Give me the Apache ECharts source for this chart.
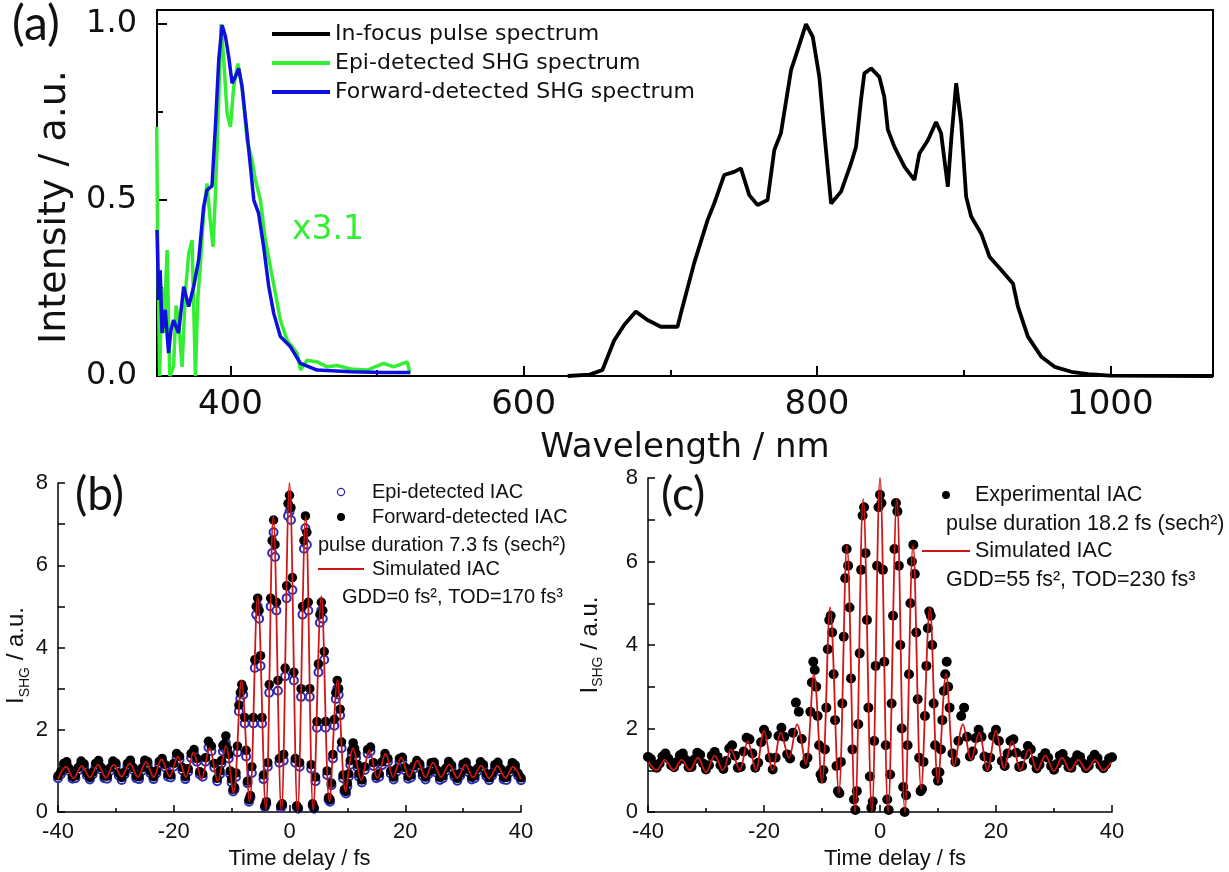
<!DOCTYPE html>
<html>
<head>
<meta charset="utf-8">
<script src="https://cdn.jsdelivr.net/npm/echarts@6.0.0/dist/echarts.min.js"></script>
<style>
html,body{margin:0;padding:0;background:#ffffff;}
#chart{width:1229px;height:872px;}
</style>
</head>
<body>
<div id="chart"></div>
<script>
// ---------- Panel (a): spectra ----------
const pulseWavelength = [630, 645, 653.7, 661.6, 668.5, 676.5, 684.4, 693.5, 704.9, 707.2, 716.2, 725.4, 729.9, 736.7, 743.5, 748.1, 753.8, 759.5, 766.3, 770.9, 775.4, 782.3, 786.8, 792.5, 797.1, 801.6, 805.0, 809.6, 816.4, 823.2, 826.6, 830.0, 832.3, 836.9, 842.5, 845.9, 848.3, 852.8, 859.6, 863.0, 866.4, 869.8, 875.6, 881.2, 884.6, 889.2, 891.5, 894.9, 898.3, 901.7, 905.1, 911.9, 917.6, 925.6, 933.6, 937.0, 943.8, 952.9, 962.0, 973.4, 985, 1000, 1070];
const pulseIntensity = [0, 0.004, 0.017, 0.10, 0.145, 0.183, 0.159, 0.14, 0.14, 0.178, 0.32, 0.443, 0.49, 0.571, 0.58, 0.59, 0.514, 0.486, 0.5, 0.642, 0.69, 0.869, 0.926, 1.0, 0.964, 0.85, 0.69, 0.49, 0.524, 0.604, 0.651, 0.784, 0.86, 0.874, 0.85, 0.793, 0.70, 0.651, 0.595, 0.576, 0.557, 0.632, 0.67, 0.722, 0.69, 0.538, 0.67, 0.832, 0.718, 0.509, 0.453, 0.405, 0.339, 0.301, 0.263, 0.197, 0.112, 0.055, 0.026, 0.012, 0.005, 0.001, 0];
const epiShgWavelength = [349.8, 350.4, 351.8, 353.2, 354.6, 356.9, 358.7, 361.3, 363.0, 364.7, 367.1, 369.3, 371.6, 373.9, 376.2, 377.8, 379.5, 381.8, 384.1, 386.3, 388.2, 389.8, 392.1, 393.7, 395.5, 397.8, 400.1, 402.3, 405.1, 408.0, 411.4, 414.8, 417.1, 420.5, 423.9, 427.3, 430.7, 434.1, 438.7, 445.5, 447.8, 452.3, 459.2, 466.0, 472.8, 481.9, 493.3, 504.6, 511.4, 520.6, 522.3];
const epiShgIntensity = [0.708, 0.405, 0.0, 0.25, 0.122, 0.358, 0.0, 0.026, 0.2, 0.159, 0.026, 0.235, 0.348, 0.386, 0.0, 0.22, 0.31, 0.462, 0.547, 0.443, 0.367, 0.514, 0.784, 1.0, 0.898, 0.746, 0.708, 0.822, 0.888, 0.822, 0.67, 0.614, 0.557, 0.5, 0.386, 0.31, 0.235, 0.159, 0.102, 0.065, 0.017, 0.045, 0.04, 0.026, 0.03, 0.02, 0.017, 0.036, 0.026, 0.04, 0.012];
const fwdShgWavelength = [350.0, 351.1, 352.2, 353.4, 355.6, 357.9, 359.5, 361.3, 364.7, 368.2, 371.6, 375.0, 378.4, 381.8, 384.1, 387.5, 389.8, 392.1, 394.4, 396.7, 398.9, 401.2, 403.4, 405.7, 408.0, 411.4, 413.7, 416.0, 419.3, 422.7, 426.2, 429.6, 434.1, 441.0, 447.8, 459.2, 482.0, 504.6, 522.8];
const fwdShgIntensity = [0.415, 0.216, 0.3, 0.122, 0.188, 0.065, 0.13, 0.159, 0.122, 0.254, 0.197, 0.254, 0.33, 0.481, 0.528, 0.54, 0.708, 0.898, 0.997, 0.964, 0.907, 0.832, 0.85, 0.874, 0.822, 0.69, 0.595, 0.5, 0.462, 0.367, 0.254, 0.178, 0.112, 0.083, 0.036, 0.017, 0.012, 0.01, 0.01];
const wavelengthTicks = [400, 600, 800, 1000];
const wavelengthMinorTicks = [500, 700, 900];
const intensityTicks = [0, 0.5, 1.0];
const intensityMinorTicks = [0.25, 0.75];

// ---------- Panels (b), (c): interferometric autocorrelation ----------
const iacDelay = [
 -40,-39.5,-39,-38.5,-38,-37.5,-37,-36.5,-36,-35.5,
 -35,-34.5,-34,-33.5,-33,-32.5,-32,-31.5,-31,-30.5,
 -30,-29.5,-29,-28.5,-28,-27.5,-27,-26.5,-26,-25.5,
 -25,-24.5,-24,-23.5,-23,-22.5,-22,-21.5,-21,-20.5,
 -20,-19.5,-19,-18.5,-18,-17.5,-17,-16.5,-16,-15.5,
 -15,-14.5,-14,-13.5,-13,-12.5,-12,-11.5,-11,-10.5,
 -10,-9.5,-9,-8.5,-8,-7.5,-7,-6.5,-6,-5.5,
 -5,-4.5,-4,-3.5,-3,-2.5,-2,-1.5,-1,-0.5,
 0,
 0.5,1,1.5,2,2.5,3,3.5,4,4.5,5,
 5.5,6,6.5,7,7.5,8,8.5,9,9.5,10,
 10.5,11,11.5,12,12.5,13,13.5,14,14.5,15,
 15.5,16,16.5,17,17.5,18,18.5,19,19.5,20,
 20.5,21,21.5,22,22.5,23,23.5,24,24.5,25,
 25.5,26,26.5,27,27.5,28,28.5,29,29.5,30,
 30.5,31,31.5,32,32.5,33,33.5,34,34.5,35,
 35.5,36,36.5,37,37.5,38,38.5,39,39.5,40];
// extra samples between the grid above, central region
const iacDelayFine = [-11.75,-11.25,-10.75,-10.25,-9.75,-9.25,-8.75,-8.25,-7.75,-7.25,-6.75,-6.25,-5.75,-5.25,-4.75,-4.25,-3.75,-3.25,-2.75,-2.25,-1.75,-1.25,-0.75,-0.25,
 0.25,0.75,1.25,1.75,2.25,2.75,3.25,3.75,4.25,4.75,5.25,5.75,6.25,6.75,7.25,7.75,8.25,8.75,9.25,9.75,10.25,10.75,11.25,11.75];

const bForwardIAC = [
 0.88, 0.98, 1.18, 1.22, 1.05, 0.86, 0.88, 1.08, 1.24, 1.17,
 0.95, 0.84, 0.97, 1.18, 1.25, 1.08, 0.88, 0.87, 1.07, 1.24,
 1.19, 0.95, 0.84, 0.97, 1.18, 1.26, 1.08, 0.88, 0.86, 1.07,
 1.26, 1.22, 1.0, 0.86, 1.0, 1.23, 1.3, 1.15, 0.92, 0.9,
 1.18, 1.42, 1.35, 1.08, 0.86, 1.05, 1.42, 1.52, 1.3, 0.98,
 0.93, 1.32, 1.72, 1.6, 1.18, 0.82, 1.0, 1.62, 1.85, 1.4,
 0.8, 0.6, 1.6, 2.9, 3.0, 1.5, 0.3, 1.1, 3.7, 5.2,
 3.8, 0.9, 0.25, 3.1, 6.6, 6.5, 3.2, 0.15, 1.4, 5.5,
 7.7,
 5.7, 1.3, 0.1, 3.0, 6.6, 6.8, 3.0, 0.2, 0.85, 3.6,
 5.1, 3.9, 1.0, 0.3, 1.4, 2.9, 3.0, 1.7, 0.55, 0.7,
 1.25, 1.68, 1.42, 0.93, 0.78, 1.1, 1.52, 1.58, 1.2, 0.88,
 0.93, 1.22, 1.42, 1.3, 1.0, 0.85, 1.05, 1.3, 1.33, 1.08,
 0.87, 0.9, 1.12, 1.25, 1.17, 0.95, 0.85, 0.98, 1.2, 1.21,
 1.02, 0.84, 0.88, 1.06, 1.23, 1.14, 0.92, 0.82, 0.94, 1.17,
 1.21, 1.03, 0.85, 0.88, 1.06, 1.22, 1.15, 0.93, 0.83, 0.94,
 1.15, 1.21, 1.05, 0.85, 0.84, 1.03, 1.2, 1.14, 0.94, 0.83];
const bForwardIACFine = [1.25, 1.65, 1.55, 1.0, 0.55, 0.95, 2.6, 3.1, 2.3, 0.75, 0.4, 2.3, 5.0, 4.9, 2.3, 0.15, 1.2, 5.2, 7.1, 5.1, 1.3, 0.2, 3.5, 7.5,
 7.4, 3.4, 0.15, 1.2, 5.0, 7.2, 5.1, 1.15, 0.1, 2.2, 4.8, 4.9, 2.2, 0.35, 0.7, 2.25, 3.2, 2.5, 0.9, 0.5, 0.93, 1.5, 1.55, 1.15];

const bEpiIAC = [
 0.82, 0.92, 1.1, 1.15, 0.99, 0.81, 0.82, 1.01, 1.16, 1.1,
 0.89, 0.79, 0.91, 1.1, 1.18, 1.02, 0.82, 0.81, 1.0, 1.16,
 1.12, 0.89, 0.78, 0.91, 1.11, 1.18, 1.02, 0.82, 0.8, 1.0,
 1.18, 1.15, 0.94, 0.8, 0.94, 1.15, 1.22, 1.08, 0.86, 0.84,
 1.1, 1.32, 1.27, 1.01, 0.8, 0.98, 1.32, 1.42, 1.22, 0.91,
 0.86, 1.22, 1.57, 1.48, 1.08, 0.75, 0.92, 1.47, 1.68, 1.3,
 0.72, 0.55, 1.45, 2.75, 2.85, 1.35, 0.25, 0.95, 3.5, 5.0,
 3.55, 0.8, 0.2, 2.9, 6.3, 6.2, 2.95, 0.1, 1.25, 5.2,
 7.3,
 5.4, 1.2, 0.08, 2.8, 6.4, 6.5, 2.8, 0.15, 0.75, 3.4,
 4.9, 3.7, 0.9, 0.25, 1.3, 2.75, 2.85, 1.55, 0.5, 0.62,
 1.15, 1.55, 1.32, 0.86, 0.72, 1.02, 1.42, 1.48, 1.12, 0.82,
 0.86, 1.14, 1.32, 1.22, 0.93, 0.79, 0.98, 1.22, 1.25, 1.01,
 0.81, 0.84, 1.05, 1.18, 1.1, 0.88, 0.79, 0.92, 1.13, 1.14,
 0.95, 0.78, 0.82, 0.99, 1.16, 1.07, 0.86, 0.76, 0.88, 1.1,
 1.14, 0.96, 0.79, 0.82, 0.99, 1.15, 1.08, 0.87, 0.77, 0.88,
 1.08, 1.14, 0.98, 0.79, 0.78, 0.96, 1.13, 1.07, 0.88, 0.77];
const bEpiIACFine = [1.18, 1.55, 1.45, 0.92, 0.5, 0.85, 2.45, 2.95, 2.15, 0.7, 0.35, 2.15, 4.8, 4.7, 2.15, 0.12, 1.1, 5.0, 6.8, 4.9, 1.2, 0.15, 3.3, 7.2,
 7.1, 3.2, 0.12, 1.1, 4.8, 6.9, 4.9, 1.05, 0.08, 2.05, 4.6, 4.7, 2.05, 0.3, 0.65, 2.1, 3.0, 2.35, 0.82, 0.45, 0.86, 1.4, 1.45, 1.08];

const bSimDelay = [-40.0, -38.6, -37.3, -35.9, -34.5, -33.1, -31.7, -30.4, -29.0, -27.6, -26.2, -24.8, -23.5, -22.1, -20.7, -19.3, -17.9, -16.6, -15.2, -13.8, -12.4, -11.0, -9.7, -8.3, -6.9, -5.5, -4.1, -2.8, -1.4, 0, 1.4, 2.8, 4.1, 5.5, 6.9, 8.3, 9.7, 11.0, 12.4, 13.8, 15.2, 16.6, 17.9, 19.3, 20.7, 22.1, 23.5, 24.8, 26.2, 27.6, 29.0, 30.4, 31.7, 33.1, 34.5, 35.9, 37.3, 38.6, 40.0];
const bSimIAC = [0.8, 1.1, 0.82, 1.12, 0.84, 1.15, 0.83, 1.15, 0.86, 1.18, 0.85, 1.22, 0.85, 1.28, 0.86, 1.35, 0.85, 1.45, 0.8, 1.55, 0.75, 1.6, 0.45, 3.2, 0.25, 5.25, 0.05, 7.2, 0.0,
 8.0,
 0.0, 7.2, 0.05, 5.25, 0.25, 3.2, 0.5, 1.55, 0.78, 1.5, 0.82, 1.42, 0.85, 1.32, 0.85, 1.25, 0.84, 1.2, 0.85, 1.16, 0.83, 1.15, 0.84, 1.13, 0.82, 1.12, 0.83, 1.1, 0.8];

const cExpIAC = [
 1.32, 1.27, 1.13, 1.06, 1.16, 1.33, 1.4, 1.28, 1.12, 1.07,
 1.2, 1.36, 1.4, 1.25, 1.07, 1.08, 1.26, 1.42, 1.37, 1.16,
 1.02, 1.12, 1.35, 1.44, 1.32, 1.12, 1.03, 1.22, 1.52, 1.6,
 1.35, 1.06, 1.08, 1.45, 1.78, 1.74, 1.4, 1.06, 1.18, 1.67,
 1.97, 1.85, 1.3, 1.02, 1.3, 1.82, 2.02, 1.8, 1.38, 1.28,
 1.9, 2.62, 2.4, 1.75, 1.15, 1.3, 2.4, 3.6, 3.0, 1.6,
 0.8, 1.5, 3.9, 4.7, 3.3, 1.1, 0.45, 2.6, 5.6, 5.9,
 3.2, 0.3, 0.5, 3.8, 7.1, 6.2, 2.5, 0.1, 1.7, 5.9,
 7.6,
 5.8, 1.6, 0.05, 2.6, 6.3, 7.2, 4.0, 0.6, 0.4, 3.3,
 6.0, 5.7, 2.7, 0.5, 1.2, 3.5, 4.8, 4.0, 1.6, 0.75,
 1.5, 2.9, 3.6, 2.5, 1.4, 1.2, 1.7, 2.3, 2.5, 1.8,
 1.33, 1.45, 1.77, 1.97, 1.8, 1.33, 1.07, 1.3, 1.82, 1.97,
 1.7, 1.22, 1.1, 1.4, 1.7, 1.74, 1.42, 1.08, 1.1, 1.37,
 1.58, 1.5, 1.22, 1.04, 1.13, 1.32, 1.41, 1.3, 1.1, 1.01,
 1.15, 1.35, 1.39, 1.23, 1.07, 1.06, 1.22, 1.36, 1.32, 1.16,
 1.05, 1.11, 1.27, 1.37, 1.29, 1.12, 1.05, 1.14, 1.28, 1.31];
const cExpIACFine = [3.1, 3.4, 2.3, 0.9, 1.0, 2.5, 4.6, 4.3, 2.2, 0.5, 1.2, 4.2, 6.3, 4.9, 1.5, 0.05, 2.1, 5.8, 7.3, 4.6, 0.85, 0.25, 3.5, 7.3,
 7.4, 3.6, 0.3, 0.9, 4.7, 7.4, 5.9, 2.0, 0.0, 1.6, 5.0, 6.4, 4.3, 1.3, 0.55, 2.3, 4.4, 4.7, 2.6, 0.95, 0.95, 2.2, 3.3, 3.0];

const cSimDelay = [-39.9, -38.5, -37.1, -35.6, -34.2, -32.8, -31.4, -30.0, -28.5, -27.1, -25.7, -24.2, -22.8, -21.4, -20.0, -18.5, -17.1, -15.7, -14.3, -12.8, -11.4, -10.0, -8.6, -7.1, -5.7, -4.3, -2.9, -1.4, 0, 1.4, 2.9, 4.3, 5.7, 7.1, 8.6, 10.0, 11.4, 12.8, 14.3, 15.7, 17.1, 18.5, 20.0, 21.4, 22.8, 24.2, 25.7, 27.1, 28.5, 30.0, 31.4, 32.8, 34.2, 35.6, 37.1, 38.5, 39.9];
const cSimIAC = [1.2, 1.0, 1.25, 1.0, 1.25, 1.0, 1.3, 0.95, 1.35, 1.0, 1.5, 1.0, 1.7, 1.0, 1.95, 1.0, 1.9, 1.3, 2.1, 1.15, 3.3, 0.7, 4.9, 0.45, 6.4, 0.0, 7.5, 0.0,
 8.0,
 0.0, 7.5, 0.0, 6.4, 0.55, 4.9, 0.7, 3.3, 1.1, 2.1, 1.25, 1.9, 1.0, 1.95, 1.05, 1.7, 1.0, 1.5, 1.0, 1.35, 0.98, 1.3, 1.0, 1.25, 1.0, 1.25, 1.0, 1.2];

const delayTicks = [-40, -20, 0, 20, 40];
const delayMinorTicks = [-30, -10, 10, 30];
const iacTicks = [0, 2, 4, 6, 8];
const iacMinorTicks = [1, 3, 5, 7];

// ---------- styling ----------
const FA = 'DejaVu Sans';
const FB = 'Liberation Sans';
const FL = 'Lato';
const GREEN = '#33ee33';
const BLUE = '#1010dd';
const RED = '#d01515';
const INK = '#111111';

function xy(xs, ys) { return xs.map((x, i) => [x, ys[i]]); }

function axisPair(dim, gi, min, max, majors, minors, o) {
  const pos = dim === 'x' ? 'bottom' : 'left';
  const major = {
    gridIndex: gi, type: 'value', min: min, max: max, position: pos,
    axisLine: { show: true, onZero: false, lineStyle: { color: '#000', width: o.lw } },
    axisTick: { show: true, inside: true, length: o.tick, customValues: majors, lineStyle: { color: '#000', width: o.lw } },
    axisLabel: { show: true, customValues: majors, color: INK, fontSize: o.fs, fontFamily: o.ff, margin: o.margin, formatter: o.fmt || (v => String(v)) },
    splitLine: { show: false },
    name: o.name, nameLocation: 'middle', nameGap: o.gap, nameRotate: o.rot || 0,
    nameTextStyle: o.nameStyle
  };
  const minor = {
    gridIndex: gi, type: 'value', min: min, max: max, position: pos,
    axisLine: { show: false, onZero: false },
    axisTick: { show: true, inside: true, length: o.minorTick, customValues: minors, lineStyle: { color: '#000', width: o.lw } },
    axisLabel: { show: false }, splitLine: { show: false }
  };
  return [major, minor];
}

const subRich = (fs, sub) => ({
  m: { fontSize: fs, fontFamily: FB, color: INK, lineHeight: 30, verticalAlign: 'middle' },
  s: { fontSize: sub, fontFamily: FB, color: INK, lineHeight: 30, verticalAlign: 'bottom' }
});

const xA = axisPair('x', 0, 350, 1070, wavelengthTicks, wavelengthMinorTicks, {
  lw: 2, tick: 10, minorTick: 6, fs: 34, ff: FA, margin: 12,
  name: 'Wavelength / nm', gap: 55,
  nameStyle: { color: INK, fontSize: 34, fontFamily: FA }
});
const yA = axisPair('y', 0, 0, 1.04, intensityTicks, intensityMinorTicks, {
  lw: 2, tick: 10, minorTick: 6, fs: 32, ff: FA, margin: 20, fmt: v => v.toFixed(1),
  name: 'Intensity / a.u.', gap: 80, rot: 90,
  nameStyle: { color: INK, fontSize: 38, fontFamily: FA, lineHeight: 40, padding: [0, 28, 0, 0] }
});
const xB = axisPair('x', 1, -40, 40, delayTicks, delayMinorTicks, {
  lw: 1.5, tick: 7, minorTick: 4, fs: 22, ff: FB, margin: 9,
  name: 'Time delay / fs', gap: 36,
  nameStyle: { color: INK, fontSize: 22, fontFamily: FB, padding: [0, 0, 0, 20] }
});
const yB = axisPair('y', 1, 0, 8, iacTicks, iacMinorTicks, {
  lw: 1.5, tick: 7, minorTick: 7, fs: 22, ff: FB, margin: 10,
  name: '{m|I}{s|SHG}{m| / a.u.}', gap: 25, rot: 90,
  nameStyle: { rich: subRich(24, 14), padding: [0, 16, 0, 0] }
});
const xC = axisPair('x', 2, -40, 40, delayTicks, delayMinorTicks, {
  lw: 1.5, tick: 7, minorTick: 4, fs: 22, ff: FB, margin: 9,
  name: 'Time delay / fs', gap: 36,
  nameStyle: { color: INK, fontSize: 22, fontFamily: FB, padding: [0, 0, 0, 30] }
});
const yC = axisPair('y', 2, 0, 8, iacTicks, iacMinorTicks, {
  lw: 1.5, tick: 7, minorTick: 7, fs: 22, ff: FB, margin: 10,
  name: '{m|I}{s|SHG}{m| / a.u.}', gap: 43, rot: 90,
  nameStyle: { rich: subRich(24, 14) }
});

function gtext(x, y, text, fs, ff, color, extra) {
  return Object.assign({ type: 'text', x: x, y: y, z: 100,
    style: { text: text, fontSize: fs, fontFamily: ff, fill: color || INK, textAlign: 'left', textVerticalAlign: 'middle' } }, extra || {});
}

const option = {
  animation: false,
  backgroundColor: '#ffffff',
  grid: [
    { left: 157, top: 10, width: 1056, height: 366, show: true, borderColor: '#000', borderWidth: 2, backgroundColor: 'transparent' },
    { left: 58, top: 483, width: 463, height: 329 },
    { left: 648, top: 478, width: 464, height: 334 }
  ],
  xAxis: [xA[0], xA[1], xB[0], xB[1], xC[0], xC[1]],
  yAxis: [yA[0], yA[1], yB[0], yB[1], yC[0], yC[1]],
  legend: {
    data: ['In-focus pulse spectrum', 'Epi-detected SHG spectrum', 'Forward-detected SHG spectrum'],
    orient: 'vertical', left: 272, top: 23, padding: 0, icon: 'rect', itemWidth: 58, itemHeight: 4, itemGap: 7,
    selectedMode: false,
    textStyle: { color: INK, fontSize: 22, fontFamily: FA }
  },
  series: [
    { type: 'line', name: 'Epi-detected SHG spectrum', xAxisIndex: 0, yAxisIndex: 0, data: xy(epiShgWavelength, epiShgIntensity),
      symbol: 'none', lineStyle: { color: GREEN, width: 3.5 }, itemStyle: { color: GREEN }, z: 2, clip: true },
    { type: 'line', name: 'Forward-detected SHG spectrum', xAxisIndex: 0, yAxisIndex: 0, data: xy(fwdShgWavelength, fwdShgIntensity),
      symbol: 'none', lineStyle: { color: BLUE, width: 3.5 }, itemStyle: { color: BLUE }, z: 3, clip: true },
    { type: 'line', name: 'In-focus pulse spectrum', xAxisIndex: 0, yAxisIndex: 0, data: xy(pulseWavelength, pulseIntensity),
      symbol: 'none', lineStyle: { color: '#000', width: 3.8 }, itemStyle: { color: '#000' }, z: 3, clip: true },

    { type: 'scatter', name: 'Epi-detected IAC', xAxisIndex: 2, yAxisIndex: 2,
      data: xy(iacDelay.concat(iacDelayFine), bEpiIAC.concat(bEpiIACFine)),
      symbol: 'emptyCircle', symbolSize: 8, itemStyle: { color: '#2b2bb5', borderWidth: 1.2, opacity: 1 }, z: 2 },
    { type: 'scatter', name: 'Forward-detected IAC', xAxisIndex: 2, yAxisIndex: 2,
      data: xy(iacDelay.concat(iacDelayFine), bForwardIAC.concat(bForwardIACFine)),
      symbol: 'circle', symbolSize: 9.5, itemStyle: { color: '#000', opacity: 1 }, z: 3 },
    { type: 'line', name: 'Simulated IAC (b)', xAxisIndex: 2, yAxisIndex: 2, data: xy(bSimDelay, bSimIAC),
      symbol: 'none', smooth: 0.35, lineStyle: { color: RED, width: 1.8 }, z: 4, clip: true },

    { type: 'scatter', name: 'Experimental IAC', xAxisIndex: 4, yAxisIndex: 4,
      data: xy(iacDelay.concat(iacDelayFine), cExpIAC.concat(cExpIACFine)),
      symbol: 'circle', symbolSize: 10, itemStyle: { color: '#000', opacity: 1 }, z: 3 },
    { type: 'line', name: 'Simulated IAC (c)', xAxisIndex: 4, yAxisIndex: 4, data: xy(cSimDelay, cSimIAC),
      symbol: 'none', smooth: 0.35, lineStyle: { color: RED, width: 1.8 }, z: 4, clip: true }
  ],
  graphic: [
    gtext(12, 25, '(a)', 48, FL),
    gtext(292, 230, 'x3.1', 33, FA, GREEN),
    gtext(75, 495, '(b)', 46, FL),
    gtext(661, 495, '(c)', 46, FL),

    { type: 'circle', shape: { cx: 341, cy: 492, r: 3.6 }, style: { fill: '#fff', stroke: '#2b2bb5', lineWidth: 1.2 }, z: 100 },
    gtext(372, 492, 'Epi-detected IAC', 20, FB),
    { type: 'circle', shape: { cx: 341, cy: 517, r: 4 }, style: { fill: '#000' }, z: 100 },
    gtext(372, 517, 'Forward-detected IAC', 20, FB),
    gtext(318, 545, 'pulse duration 7.3 fs (sech²)', 20, FB),
    { type: 'line', shape: { x1: 318, y1: 569, x2: 364, y2: 569 }, style: { stroke: RED, lineWidth: 2 }, z: 100 },
    gtext(372, 569, 'Simulated IAC', 20, FB),
    gtext(342, 597, 'GDD=0 fs², TOD=170 fs³', 20, FB),

    { type: 'circle', shape: { cx: 946, cy: 495, r: 4 }, style: { fill: '#000' }, z: 100 },
    gtext(975, 495, 'Experimental IAC', 21.5, FB),
    gtext(946, 524, 'pulse duration 18.2 fs (sech²)', 21.5, FB),
    { type: 'line', shape: { x1: 922, y1: 551, x2: 970, y2: 551 }, style: { stroke: RED, lineWidth: 2 }, z: 100 },
    gtext(975, 551, 'Simulated IAC', 21.5, FB),
    gtext(946, 580, 'GDD=55 fs², TOD=230 fs³', 21.5, FB)
  ]
};

const chart = echarts.init(document.getElementById('chart'), null, { renderer: 'canvas', width: 1229, height: 872 });
chart.setOption(option);
</script>
</body>
</html>
